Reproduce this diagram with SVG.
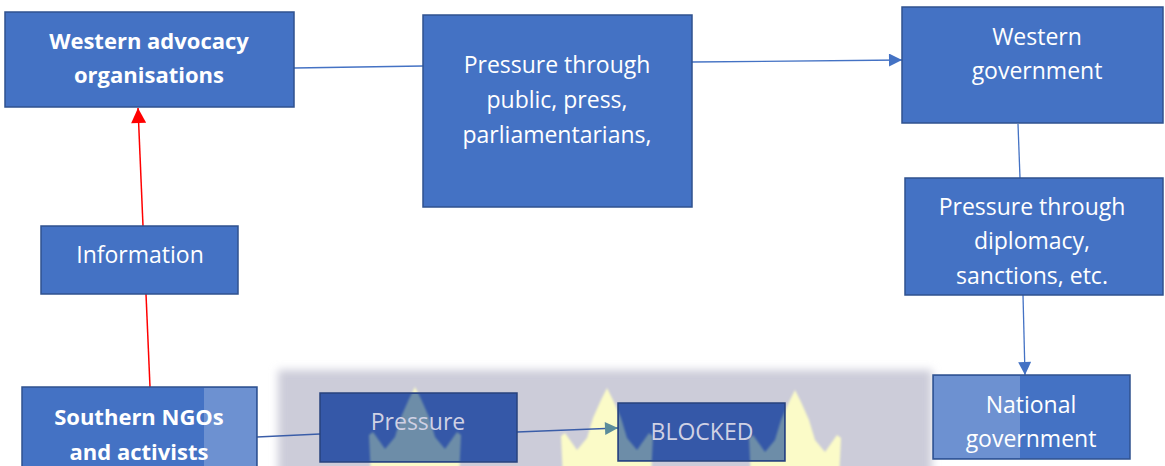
<svg xmlns="http://www.w3.org/2000/svg" xmlns:xlink="http://www.w3.org/1999/xlink" width="1165" height="466" viewBox="0 0 1165 466">
  <style>
    .box { fill: #4472C4; stroke: #2F528F; stroke-width: 1.5; }
    .dim { fill: #3558A8; stroke: #27427C; stroke-width: 1.5; }
    .t { font-family: "Open Sans", "Noto Sans", sans-serif; font-size: 23px; fill: #FFFFFF; text-anchor: middle; }
    .b { font-weight: bold; font-size: 22px; }
    .tdim { fill: #CFD1E4; }
    .link { fill: none; stroke: #4472C4; stroke-width: 1.3; }
    .red { fill: none; stroke: #FF0000; stroke-width: 1.5; }
    .veil { fill: #FFFFFF; fill-opacity: 0.22; }
  </style>
  <defs>
    <marker id="arrowBlue" viewBox="0 0 10 10" refX="10" refY="5" markerUnits="userSpaceOnUse" markerWidth="15" markerHeight="13" orient="auto">
      <path d="M0,0 L10,5 L0,10 Z" fill="#4472C4"/>
    </marker>
    <marker id="arrowTeal" viewBox="0 0 10 10" refX="10" refY="5" markerUnits="userSpaceOnUse" markerWidth="15" markerHeight="13" orient="auto">
      <path d="M0,0 L10,5 L0,10 Z" fill="#5B8C9B"/>
    </marker>
    <marker id="arrowRed" viewBox="0 0 10 10" refX="10" refY="5" markerUnits="userSpaceOnUse" markerWidth="16" markerHeight="15" orient="auto">
      <path d="M0,0 L10,5 L0,10 Z" fill="#FF0000"/>
    </marker>
    <path id="crown" d="M-44,90 L-46,48 L-42,45 L-30,62 L-20,50 L-14,30 L-6,12 L0,0 L6,12 L14,30 L20,50 L30,62 L42,45 L46,48 L44,90 Z"/>
    <filter id="soft" x="-10%" y="-20%" width="120%" height="140%">
      <feGaussianBlur stdDeviation="4"/>
    </filter>
    <filter id="softer" x="-10%" y="-10%" width="120%" height="120%">
      <feGaussianBlur stdDeviation="0.8"/>
    </filter>
    <clipPath id="clipPressure"><rect x="321" y="394" width="195" height="67"/></clipPath>
    <clipPath id="clipBlocked"><rect x="619" y="404" width="165" height="56"/></clipPath>
  </defs>

  <rect x="0" y="0" width="1165" height="466" fill="#FFFFFF"/>

  <!-- backdrop emblem behind the lower row -->
  <g id="emblem">
    <rect x="278" y="370" width="654" height="110" fill="#CCCCD9" filter="url(#soft)"/>
    <g fill="#FBFBC8" filter="url(#softer)">
      <use xlink:href="#crown" transform="translate(415,387)"/>
      <use xlink:href="#crown" transform="translate(607,388)"/>
      <use xlink:href="#crown" transform="translate(795,390)"/>
    </g>
  </g>

  <g id="connectors">
    <path class="link" d="M294,68 L423,66"/>
    <path class="link" d="M692,62 L902,60" marker-end="url(#arrowBlue)"/>
    <path class="link" d="M1018,124 L1020,178"/>
    <path class="link" d="M1023,295 L1025,375" marker-end="url(#arrowBlue)"/>
    <path class="red" d="M150,387 L146,294"/>
    <path class="red" d="M143,226 L138,108" marker-end="url(#arrowRed)"/>
    <path class="link" d="M257,437 L320,434" style="stroke:#3A5DA8"/>
    <path class="link" d="M517,432 L618,428" style="stroke:#3A5DA8" marker-end="url(#arrowTeal)"/>
  </g>

  <g id="western-advocacy">
    <rect class="box" x="5" y="12" width="289" height="95"/>
    <text class="t b" x="149" y="49">Western advocacy</text>
    <text class="t b" x="149" y="83">organisations</text>
  </g>

  <g id="pressure-public">
    <rect class="box" x="423" y="15" width="269" height="192"/>
    <text class="t" x="557" y="73">Pressure through</text>
    <text class="t" x="557" y="108">public, press,</text>
    <text class="t" x="557" y="143">parliamentarians,</text>
  </g>

  <g id="western-government">
    <rect class="box" x="902" y="7" width="261" height="116"/>
    <text class="t" x="1037" y="45">Western</text>
    <text class="t" x="1037" y="79">government</text>
  </g>

  <g id="pressure-diplomacy">
    <rect class="box" x="905" y="178" width="258" height="117"/>
    <text class="t" x="1032" y="215">Pressure through</text>
    <text class="t" x="1032" y="249">diplomacy,</text>
    <text class="t" x="1032" y="284">sanctions, etc.</text>
  </g>

  <g id="information">
    <rect class="box" x="41" y="226" width="197" height="68"/>
    <text class="t" x="140" y="263">Information</text>
  </g>

  <g id="southern-ngos">
    <rect class="box" x="22" y="387" width="235" height="90"/>
    <rect class="veil" x="204" y="388" width="52" height="80"/>
    <text class="t b" x="139" y="425">Southern NGOs</text>
    <text class="t b" x="139" y="460">and activists</text>
  </g>

  <g id="pressure">
    <rect class="dim" x="320" y="393" width="197" height="69"/>
    <g clip-path="url(#clipPressure)" fill="#7797A8" fill-opacity="0.85" filter="url(#softer)">
      <use xlink:href="#crown" transform="translate(415,387)"/>
    </g>
    <text class="t tdim" x="418" y="430">Pressure</text>
  </g>

  <g id="blocked">
    <rect class="dim" x="618" y="403" width="167" height="58"/>
    <g clip-path="url(#clipBlocked)" fill="#7797A8" fill-opacity="0.85" filter="url(#softer)">
      <use xlink:href="#crown" transform="translate(607,388)"/>
      <use xlink:href="#crown" transform="translate(795,390)"/>
    </g>
    <text class="t tdim" x="702" y="440">BLOCKED</text>
  </g>

  <g id="national-government">
    <rect class="box" x="933" y="375" width="197" height="84"/>
    <rect class="veil" x="934" y="376" width="86" height="82"/>
    <text class="t" x="1031" y="413">National</text>
    <text class="t" x="1031" y="447">government</text>
  </g>
</svg>
